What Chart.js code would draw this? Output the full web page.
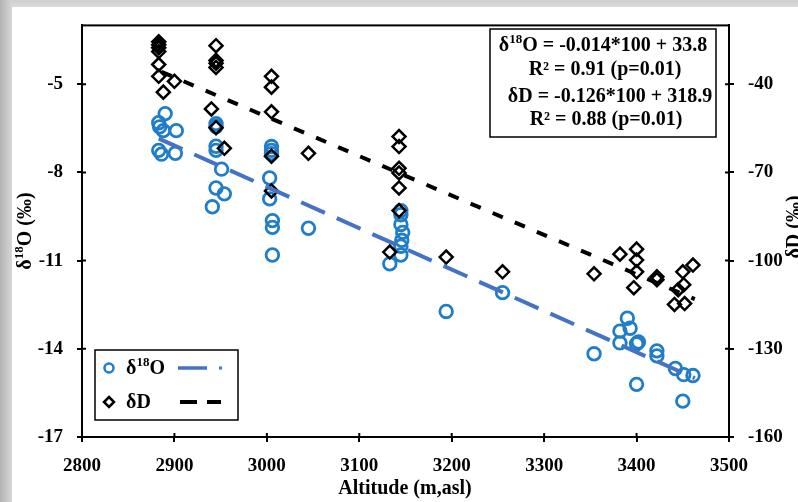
<!DOCTYPE html>
<html><head><meta charset="utf-8">
<script src="https://cdn.jsdelivr.net/npm/chart.js@4/dist/chart.umd.min.js"></script>
<style>html,body{margin:0;padding:0;background:#fff}#wrap{width:798px;height:502px}</style>
</head><body><div id="wrap"><canvas id="c" width="798" height="502"></canvas></div>
<script>
// ---- data ----
const altO = [2890,2883,2884,2888,2902,2883,2886,2901,
  2945,2945,2945,2945,2951,2945,2954,2941,
  3005,3005,3005,3003,3003,3006,3006,3006,3045,
  3145,3145,3145,3147,3146,3145,3145,3133,
  3194,3255,3354,3382,3390,3393,3382,3400,3402,3422,3422,3442,3451,3461,3400,3450];
const valO = [-6.0,-6.31,-6.45,-6.58,-6.58,-7.25,-7.38,-7.35,
  -6.34,-6.44,-7.11,-7.25,-7.89,-8.53,-8.73,-9.17,
  -7.12,-7.25,-7.36,-8.19,-8.90,-9.64,-9.87,-10.81,-9.90,
  -9.30,-9.44,-9.77,-10.04,-10.31,-10.51,-10.81,-11.11,
  -12.73,-12.09,-14.17,-13.40,-12.96,-13.30,-13.80,-13.83,-13.77,-14.07,-14.24,-14.67,-14.88,-14.91,-15.21,-15.78];
const altD = [2883,2883,2883,2883,2883,2883,2900,2888,
  2945,2945,2945,2945,2940,2945,2954,
  3005,3005,3005,3005,3005,3045,
  3143,3143,3143,3143,3143,3143,3133,
  3194,3255,3354,3382,3400,3400,3400,3397,3422,3422,3445,3441,3450,3451,3452,3461];
const valD = [-25.6,-26.6,-27.6,-28.9,-33.3,-37.3,-39.0,-42.7,
  -26.9,-31.9,-32.9,-34.3,-48.4,-54.8,-61.8,
  -37.3,-41.0,-49.4,-64.5,-76.3,-63.5,
  -57.8,-61.2,-68.6,-70.2,-75.3,-83.0,-97.1,
  -98.8,-103.8,-104.5,-97.8,-96.1,-99.8,-103.8,-109.2,-105.5,-106.5,-109.9,-114.9,-103.8,-108.2,-114.6,-101.5];
const trendAltO = [2883, 3463];
const trendO = [-6.85, -15.0];
const trendAltD = [2886, 3463];
const trendD = [-35.8, -113.1];
const xTicks = [2800,2900,3000,3100,3200,3300,3400,3500];
const yLeftTicks = [-17,-14,-11,-8,-5];
const yRightTicks = [-160,-130,-100,-70,-40];

const SERIF = '"Liberation Serif","Times New Roman",serif';
const BLUE_PT = '#1F7DC9';
const BLUE_LN = '#4472C4';

function rich(ctx, parts, x, y, size, align) {
  const f = 'bold ' + size + 'px ' + SERIF;
  const fs = 'bold ' + Math.round(size*0.65) + 'px ' + SERIF;
  let w = 0;
  parts.forEach(p => { ctx.font = p[1] ? fs : f; w += ctx.measureText(p[0]).width; });
  let cx = align === 'center' ? x - w/2 : x;
  ctx.textBaseline = 'middle';
  ctx.textAlign = 'left';
  parts.forEach(p => {
    ctx.font = p[1] ? fs : f;
    ctx.fillText(p[0], cx, p[1] ? y - size*0.3 : y);
    cx += ctx.measureText(p[0]).width;
  });
}

const decor = {
  id: 'decor',
  beforeDraw(chart) {
    const ctx = chart.ctx;
    ctx.save();
    ctx.fillStyle = '#fff';
    ctx.fillRect(0,0,798,502);
    let g = ctx.createLinearGradient(0,0,0,8);
    g.addColorStop(0,'#cfcfcf'); g.addColorStop(1,'#dcdcdc');
    ctx.fillStyle = g; ctx.fillRect(0,0,798,7);
    g = ctx.createLinearGradient(0,0,12,0);
    g.addColorStop(0,'#b4b4b4'); g.addColorStop(1,'#d6d6d6');
    ctx.fillStyle = g; ctx.fillRect(0,0,12,502);
    ctx.restore();
  },
  afterDraw(chart) {
    const ctx = chart.ctx, a = chart.chartArea;
    ctx.save();
    ctx.strokeStyle = '#000'; ctx.lineWidth = 2;
    ctx.strokeRect(a.left, a.top, a.right - a.left, a.bottom - a.top);
    const sx = chart.scales.x, yl = chart.scales.y, yr = chart.scales.y2;
    ctx.beginPath();
    sx.ticks.forEach(t => { const p = sx.getPixelForValue(t.value); ctx.moveTo(p, a.bottom); ctx.lineTo(p, a.bottom - 4); });
    yl.ticks.forEach(t => { const p = yl.getPixelForValue(t.value); ctx.moveTo(a.left, p); ctx.lineTo(a.left + 4, p); });
    yr.ticks.forEach(t => { const p = yr.getPixelForValue(t.value); ctx.moveTo(a.right, p); ctx.lineTo(a.right - 4, p); });
    ctx.stroke();

    ctx.fillStyle = '#000';
    ctx.font = 'bold 20px ' + SERIF; ctx.textAlign = 'center'; ctx.textBaseline = 'middle';
    ctx.fillText('Altitude (m,asl)', 405, 489);
    ctx.save(); ctx.translate(26, 231); ctx.rotate(-Math.PI/2);
    rich(ctx, [['δ',0],['18',1],['O (‰)',0]], 0, 0, 20, 'center');
    ctx.restore();
    ctx.save(); ctx.translate(795, 227); ctx.rotate(-Math.PI/2);
    rich(ctx, [['δD (‰)',0]], 0, 0, 20, 'center');
    ctx.restore();

    // equation box
    ctx.fillStyle = '#fff'; ctx.fillRect(490, 29, 226, 108);
    ctx.strokeStyle = '#000'; ctx.lineWidth = 1.5; ctx.strokeRect(490, 29, 226, 108);
    ctx.fillStyle = '#000';
    rich(ctx, [['δ',0],['18',1],['O = -0.014*100 + 33.8',0]], 603, 46, 20, 'center');
    rich(ctx, [['R² = 0.91 (p=0.01)',0]], 605, 70, 20, 'center');
    rich(ctx, [['δD = -0.126*100 + 318.9',0]], 610, 97, 20, 'center');
    rich(ctx, [['R² = 0.88 (p=0.01)',0]], 606, 120, 20, 'center');

    // legend
    ctx.fillStyle = '#fff'; ctx.fillRect(95, 350, 143, 70);
    ctx.strokeStyle = '#000'; ctx.lineWidth = 1.5; ctx.strokeRect(95, 350, 143, 70);
    ctx.strokeStyle = BLUE_PT; ctx.lineWidth = 2.5;
    ctx.beginPath(); ctx.arc(109, 368, 4.5, 0, Math.PI*2); ctx.stroke();
    ctx.fillStyle = '#000';
    rich(ctx, [['δ',0],['18',1],['O',0]], 126, 369, 20, 'left');
    ctx.strokeStyle = BLUE_LN; ctx.lineWidth = 3.5;
    ctx.beginPath(); ctx.moveTo(178, 368); ctx.lineTo(207, 368); ctx.stroke();
    ctx.fillStyle = BLUE_LN; ctx.fillRect(219, 366.5, 3, 3);
    ctx.strokeStyle = '#000'; ctx.lineWidth = 2.5;
    ctx.beginPath(); ctx.moveTo(109, 397); ctx.lineTo(114, 402); ctx.lineTo(109, 407); ctx.lineTo(104, 402); ctx.closePath(); ctx.stroke();
    ctx.fillStyle = '#000';
    rich(ctx, [['δD',0]], 126, 403, 20, 'left');
    ctx.lineWidth = 4;
    ctx.beginPath(); ctx.moveTo(180, 402); ctx.lineTo(197, 402); ctx.moveTo(207, 402); ctx.lineTo(221, 402); ctx.stroke();
    ctx.restore();
  }
};

const ptsO = altO.map((x,i) => ({x, y: valO[i]}));
const ptsD = altD.map((x,i) => ({x, y: valD[i]}));
const lnO = trendAltO.map((x,i) => ({x, y: trendO[i]}));
const lnD = trendAltD.map((x,i) => ({x, y: trendD[i]}));

const tickFont = {family: SERIF, size: 19, weight: 'bold'};
new Chart(document.getElementById('c'), {
  type: 'scatter',
  data: { datasets: [
    {label:'δ18O', data: ptsO, yAxisID:'y', pointStyle:'circle', pointRadius:6.3, pointBorderWidth:2.8, borderColor:BLUE_PT, backgroundColor:'rgba(0,0,0,0)', order:2},
    {label:'δD', data: ptsD, yAxisID:'y2', pointStyle:'rectRot', pointRadius:6.5, pointBorderWidth:2.5, borderColor:'#000', backgroundColor:'rgba(0,0,0,0)', order:1},
    {label:'trend O', data: lnO, yAxisID:'y', showLine:true, pointRadius:0, borderColor:BLUE_LN, borderWidth:4, borderDash:[26,13], order:0},
    {label:'trend D', data: lnD, yAxisID:'y2', showLine:true, pointRadius:0, borderColor:'#000', borderWidth:4, borderDash:[11,13], order:0}
  ]},
  options: {
    responsive:false, animation:false, devicePixelRatio:1,
    layout:{padding:{top:20,left:0,right:0,bottom:0}},
    plugins:{legend:{display:false}, tooltip:{enabled:false}},
    scales:{
      x:{type:'linear', min:2800, max:3500,
        afterBuildTicks:s=>{s.ticks = xTicks.map(v=>({value:v}));},
        afterFit:s=>{s.height = 65;},
        grid:{drawOnChartArea:false, drawTicks:true, tickLength:5, color:'#000', lineWidth:2},
        border:{display:true, color:'#000', width:2},
        ticks:{font:tickFont, color:'#000', padding:13, maxRotation:0, callback:v=>String(v)}},
      y:{type:'linear', position:'left', min:-17, max:-3,
        afterBuildTicks:s=>{s.ticks = yLeftTicks.map(v=>({value:v}));},
        afterFit:s=>{s.width = 82;},
        grid:{drawOnChartArea:false, drawTicks:true, tickLength:5, color:'#000', lineWidth:2},
        border:{display:true, color:'#000', width:2},
        ticks:{font:tickFont, color:'#000', padding:14, callback:v=>String(v)}},
      y2:{type:'linear', position:'right', min:-160, max:-20,
        afterBuildTicks:s=>{s.ticks = yRightTicks.map(v=>({value:v}));},
        afterFit:s=>{s.width = 69;},
        grid:{drawOnChartArea:false, drawTicks:true, tickLength:5, color:'#000', lineWidth:2},
        border:{display:true, color:'#000', width:2},
        ticks:{font:tickFont, color:'#000', padding:14, callback:v=>String(v)}}
    }
  },
  plugins:[decor]
});
</script></body></html>
